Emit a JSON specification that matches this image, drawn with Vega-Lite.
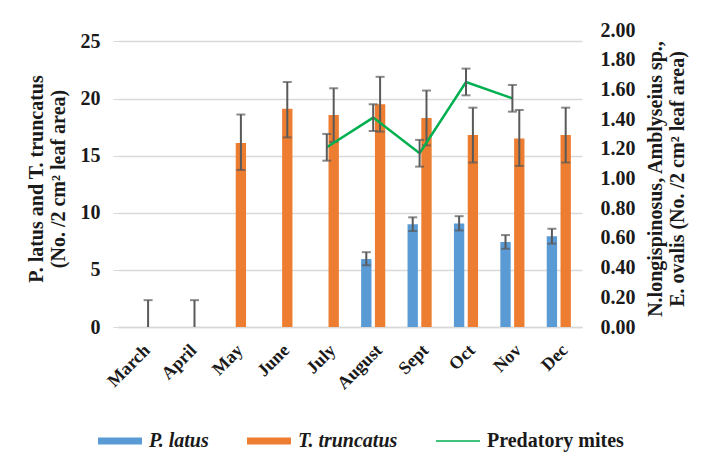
{
  "$schema": "https://vega.github.io/schema/vega-lite/v6.json",
  "width": 464,
  "height": 297,
  "autosize": {"type": "none"},
  "padding": {"left": 118, "top": 30, "right": 121, "bottom": 134},
  "background": "white",
  "config": {
    "font": "Liberation Serif",
    "view": {"stroke": null},
    "axis": {
      "labelFont": "Liberation Serif",
      "labelFontWeight": "bold",
      "labelFontSize": 20,
      "labelColor": "#1a1a1a",
      "labelOverlap": false,
      "titleFont": "Liberation Serif",
      "titleFontWeight": "bold",
      "titleFontSize": 20,
      "titleColor": "#1a1a1a"
    }
  },
  "datasets": {
    "bars": [
      {"month": "March", "series": "P. latus", "value": 0, "lo": 0, "hi": 0},
      {"month": "March", "series": "T. truncatus", "value": 0, "lo": 0, "hi": 2.35},
      {"month": "April", "series": "P. latus", "value": 0, "lo": 0, "hi": 0},
      {"month": "April", "series": "T. truncatus", "value": 0, "lo": 0, "hi": 2.35},
      {"month": "May", "series": "P. latus", "value": 0, "lo": 0, "hi": 0},
      {"month": "May", "series": "T. truncatus", "value": 16.1, "lo": 13.75, "hi": 18.6},
      {"month": "June", "series": "P. latus", "value": 0, "lo": 0, "hi": 0},
      {"month": "June", "series": "T. truncatus", "value": 19.1, "lo": 16.6, "hi": 21.45},
      {"month": "July", "series": "P. latus", "value": 0, "lo": 0, "hi": 0},
      {"month": "July", "series": "T. truncatus", "value": 18.55, "lo": 16.2, "hi": 20.9},
      {"month": "August", "series": "P. latus", "value": 5.95, "lo": 5.4, "hi": 6.55},
      {"month": "August", "series": "T. truncatus", "value": 19.5, "lo": 17.1, "hi": 21.9},
      {"month": "Sept", "series": "P. latus", "value": 9.0, "lo": 8.4, "hi": 9.6},
      {"month": "Sept", "series": "T. truncatus", "value": 18.3, "lo": 15.9, "hi": 20.7},
      {"month": "Oct", "series": "P. latus", "value": 9.05, "lo": 8.45, "hi": 9.7},
      {"month": "Oct", "series": "T. truncatus", "value": 16.8, "lo": 14.4, "hi": 19.2},
      {"month": "Nov", "series": "P. latus", "value": 7.45, "lo": 6.85, "hi": 8.05},
      {"month": "Nov", "series": "T. truncatus", "value": 16.5, "lo": 14.1, "hi": 19.0},
      {"month": "Dec", "series": "P. latus", "value": 7.95, "lo": 7.3, "hi": 8.6},
      {"month": "Dec", "series": "T. truncatus", "value": 16.8, "lo": 14.4, "hi": 19.2}
    ],
    "mites": [
      {"month": "July", "mites": 1.21, "lo": 1.12, "hi": 1.30},
      {"month": "August", "mites": 1.41, "lo": 1.32, "hi": 1.50},
      {"month": "Sept", "mites": 1.17, "lo": 1.08, "hi": 1.26},
      {"month": "Oct", "mites": 1.65, "lo": 1.56, "hi": 1.74},
      {"month": "Nov", "mites": 1.54, "lo": 1.45, "hi": 1.63}
    ]
  },
  "encoding": {
    "x": {
      "field": "month",
      "type": "nominal",
      "sort": ["March", "April", "May", "June", "July", "August", "Sept", "Oct", "Nov", "Dec"],
      "scale": {"domain": ["March", "April", "May", "June", "July", "August", "Sept", "Oct", "Nov", "Dec"], "paddingInner": 0.48, "paddingOuter": 0.24},
      "axis": {
        "title": null,
        "labelAngle": -45,
        "labelFontSize": 18,
        "labelPadding": 14,
        "ticks": false,
        "domainColor": "#d9d9d9",
        "domainWidth": 1.5
      }
    }
  },
  "layer": [
    {
      "data": {"name": "bars"},
      "encoding": {
        "xOffset": {"field": "series", "type": "nominal", "scale": {"domain": ["P. latus", "T. truncatus"], "paddingInner": 0.25}}
      },
      "layer": [
        {
          "mark": {"type": "bar"},
          "encoding": {
            "y": {
              "field": "value",
              "type": "quantitative",
              "scale": {"domain": [0, 25]},
              "axis": {
                "orient": "left",
                "values": [0, 5, 10, 15, 20, 25],
                "title": ["P. latus  and T. truncatus", "(No. /2 cm² leaf area)"],
                "titlePadding": 12,
                "grid": true,
                "gridColor": "#d9d9d9",
                "gridWidth": 1.5,
                "domain": false,
                "tickColor": "#d9d9d9",
                "tickSize": 5,
                "labelPadding": 13,
                "labelOverlap": false
              }
            },
            "color": {
              "field": "series",
              "type": "nominal",
              "scale": {"domain": ["P. latus", "T. truncatus", "Predatory mites"], "range": ["#5B9BD5", "#ED7D31", "#00B050"]},
              "legend": {
                "title": null,
                "orient": "none",
                "direction": "horizontal",
                "legendX": -20,
                "legendY": 389,
                "columns": 3,
                "columnPadding": 38,
                "symbolSize": 1936,
                "symbolType": "M-1,-0.16H1V0.16H-1Z",
                "symbolStrokeWidth": 0,
                "labelFont": "Liberation Serif",
                "labelFontSize": 20,
                "labelFontWeight": "bold",
                "labelColor": "#1a1a1a",
                "labelOffset": 7,
                "labelLimit": 300,
                "encode": {
                  "symbols": {"update": {"shape": {"signal": "datum.value === 'Predatory mites' ? 'M-1,-0.03H1V0.03H-1Z' : 'M-1,-0.16H1V0.16H-1Z'"}}},
                  "labels": {"update": {"fontStyle": {"signal": "datum.value === 'Predatory mites' ? 'normal' : 'italic'"}}}
                }
              }
            }
          }
        },
        {
          "transform": [{"filter": "datum.hi > datum.lo"}],
          "mark": {"type": "rule", "color": "#595959", "strokeWidth": 2},
          "encoding": {
            "y": {"field": "lo", "type": "quantitative"},
            "y2": {"field": "hi"}
          }
        },
        {
          "transform": [{"filter": "datum.hi > datum.lo"}],
          "mark": {"type": "tick", "color": "#595959", "size": 9, "thickness": 2},
          "encoding": {"y": {"field": "hi", "type": "quantitative"}}
        },
        {
          "transform": [{"filter": "datum.hi > datum.lo && datum.lo > 0"}],
          "mark": {"type": "tick", "color": "#595959", "size": 9, "thickness": 2},
          "encoding": {"y": {"field": "lo", "type": "quantitative"}}
        }
      ]
    },
    {
      "data": {"name": "mites"},
      "layer": [
        {
          "mark": {"type": "line", "color": "#00B050", "strokeWidth": 2.5},
          "encoding": {
            "y": {
              "field": "mites",
              "type": "quantitative",
              "scale": {"domain": [0, 2]},
              "axis": {
                "orient": "right",
                "values": [0, 0.2, 0.4, 0.6, 0.8, 1.0, 1.2, 1.4, 1.6, 1.8, 2.0],
                "format": ".2f",
                "labelOverlap": false,
                "title": ["N.longispinosus, Amblyseius sp.,", "E. ovalis (No. /2 cm² leaf area)"],
                "titleAngle": -90,
                "titlePadding": 8,
                "grid": false,
                "domain": false,
                "ticks": false,
                "labelPadding": 18
              }
            }
          }
        },
        {
          "mark": {"type": "rule", "color": "#595959", "strokeWidth": 2},
          "encoding": {
            "y": {
              "field": "lo",
              "type": "quantitative",
              "axis": {
                "orient": "right",
                "values": [0, 0.2, 0.4, 0.6, 0.8, 1.0, 1.2, 1.4, 1.6, 1.8, 2.0],
                "format": ".2f",
                "labelOverlap": false,
                "title": ["N.longispinosus, Amblyseius sp.,", "E. ovalis (No. /2 cm² leaf area)"],
                "titleAngle": -90,
                "titlePadding": 8,
                "grid": false,
                "domain": false,
                "ticks": false,
                "labelPadding": 18
              }
            },
            "y2": {"field": "hi"}
          }
        },
        {
          "mark": {"type": "tick", "color": "#595959", "size": 9, "thickness": 2},
          "encoding": {
            "y": {
              "field": "hi",
              "type": "quantitative",
              "axis": {
                "orient": "right",
                "values": [0, 0.2, 0.4, 0.6, 0.8, 1.0, 1.2, 1.4, 1.6, 1.8, 2.0],
                "format": ".2f",
                "labelOverlap": false,
                "title": ["N.longispinosus, Amblyseius sp.,", "E. ovalis (No. /2 cm² leaf area)"],
                "titleAngle": -90,
                "titlePadding": 8,
                "grid": false,
                "domain": false,
                "ticks": false,
                "labelPadding": 18
              }
            }
          }
        },
        {
          "mark": {"type": "tick", "color": "#595959", "size": 9, "thickness": 2},
          "encoding": {
            "y": {
              "field": "lo",
              "type": "quantitative",
              "axis": {
                "orient": "right",
                "values": [0, 0.2, 0.4, 0.6, 0.8, 1.0, 1.2, 1.4, 1.6, 1.8, 2.0],
                "format": ".2f",
                "labelOverlap": false,
                "title": ["N.longispinosus, Amblyseius sp.,", "E. ovalis (No. /2 cm² leaf area)"],
                "titleAngle": -90,
                "titlePadding": 8,
                "grid": false,
                "domain": false,
                "ticks": false,
                "labelPadding": 18
              }
            }
          }
        }
      ]
    }
  ],
  "resolve": {"scale": {"y": "independent"}}
}
